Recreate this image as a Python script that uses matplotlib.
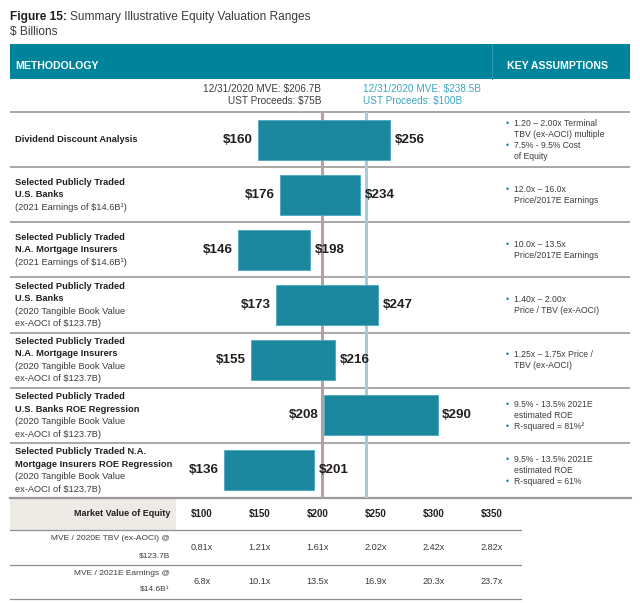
import matplotlib
matplotlib.use("Agg")
import matplotlib.pyplot as plt
from matplotlib.patches import Rectangle

plt.rcParams['font.family'] = ['Liberation Sans', 'DejaVu Sans']

# data
method_bold = [
    ["Dividend Discount Analysis"],
    ["Selected Publicly Traded", "U.S. Banks"],
    ["Selected Publicly Traded", "N.A. Mortgage Insurers"],
    ["Selected Publicly Traded", "U.S. Banks"],
    ["Selected Publicly Traded", "N.A. Mortgage Insurers"],
    ["Selected Publicly Traded", "U.S. Banks ROE Regression"],
    ["Selected Publicly Traded N.A.", "Mortgage Insurers ROE Regression"],
]
method_note = [
    [],
    ["(2021 Earnings of $14.6B\u00b9)"],
    ["(2021 Earnings of $14.6B\u00b9)"],
    ["(2020 Tangible Book Value", "ex-AOCI of $123.7B)"],
    ["(2020 Tangible Book Value", "ex-AOCI of $123.7B)"],
    ["(2020 Tangible Book Value", "ex-AOCI of $123.7B)"],
    ["(2020 Tangible Book Value", "ex-AOCI of $123.7B)"],
]
low_vals = [160, 176, 146, 173, 155, 208, 136]
high_vals = [256, 234, 198, 247, 216, 290, 201]
key_assumptions = [
    ["\u2022 1.20 \u2013 2.00x Terminal", "TBV (ex-AOCI) multiple", "\u2022 7.5% - 9.5% Cost", "of Equity"],
    ["\u2022 12.0x \u2013 16.0x", "Price/2017E Earnings"],
    ["\u2022 10.0x \u2013 13.5x", "Price/2017E Earnings"],
    ["\u2022 1.40x \u2013 2.00x", "Price / TBV (ex-AOCI)"],
    ["\u2022 1.25x \u2013 1.75x Price /", "TBV (ex-AOCI)"],
    ["\u2022 9.5% - 13.5% 2021E", "estimated ROE", "\u2022 R-squared = 81%\u00b2"],
    ["\u2022 9.5% - 13.5% 2021E", "estimated ROE", "\u2022 R-squared = 61%"],
]
mve_current = 206.7
mve_proforma = 238.5
ref_labels = [["12/31/2020 MVE: $206.7B", "UST Proceeds: $75B"],
              ["12/31/2020 MVE: $238.5B", "UST Proceeds: $100B"]]

mve_cols = ["$100", "$150", "$200", "$250", "$300", "$350"]
tbv_mult = ["0.81x", "1.21x", "1.61x", "2.02x", "2.42x", "2.82x"]
earn_mult = ["6.8x", "10.1x", "13.5x", "16.9x", "20.3x", "23.7x"]
table_rows = [["MVE / 2020E TBV (ex-AOCI) @", "$123.7B"],
              ["MVE / 2021E Earnings @", "$14.6B\u00b9"]]

# colours
teal = "#00849b"
bar_col = "#1a879f"
dark = "#231f20"
grey_txt = "#3c3c3c"
line_grey = "#8f8f8f"
brown = "#b3a39c"
light_blue = "#a8cbdc"
blue_txt = "#3aa6c1"

W, H = 640, 603
fig = plt.figure(figsize=(W / 100, H / 100), dpi=100)
lay = fig.add_axes([0, 0, 1, 1])
lay.set_xlim(0, W)
lay.set_ylim(H, 0)
lay.axis("off")

# title
r = fig.canvas.get_renderer()
t = lay.text(10, 17, "Figure 15:", fontsize=8.6, fontweight="bold", color=dark, va="center")
bb = t.get_window_extent(r)
lay.text(bb.x1 + 3, 17, "Summary Illustrative Equity Valuation Ranges", fontsize=8.6,
         color=grey_txt, va="center")
lay.text(10, 32, "$ Billions", fontsize=8.6, color=grey_txt, va="center")

# header band
lay.add_patch(Rectangle((10, 44), 620, 35, facecolor=teal, edgecolor="none"))
lay.plot([492, 492], [44, 79], color="#2f9aae", lw=0.8)
lay.text(15, 66, "METHODOLOGY", fontsize=7.6, fontweight="bold", color="white", va="center")
lay.text(507, 66, "KEY ASSUMPTIONS", fontsize=7.6, fontweight="bold", color="white", va="center")

# row grid
top, row_h = 112, 55.14
n = len(low_vals)
for i in range(n + 1):
    y = top + i * row_h
    lay.plot([10, 630], [y, y], color=line_grey, lw=1.1, solid_capstyle="butt")

# left text + key assumptions
for i in range(n):
    cy = top + (i + 0.5) * row_h
    lines = [(s, "bold") for s in method_bold[i]] + [(s, "normal") for s in method_note[i]]
    y0 = cy - (len(lines) - 1) * 12.5 / 2
    for k, (s, w) in enumerate(lines):
        lay.text(15, y0 + k * 12.5, s, fontsize=6.7, fontweight=w,
                 color=dark if w == "bold" else grey_txt, va="center")
    ka = key_assumptions[i]
    y0 = cy - (len(ka) - 1) * 11 / 2
    for k, s in enumerate(ka):
        yy = y0 + k * 11
        if s.startswith("\u2022"):
            lay.text(506, yy, "\u2022", fontsize=6.2, color=teal, va="center")
            s = s[2:]
        lay.text(514, yy, s, fontsize=6.2, color=grey_txt, va="center")

# reference labels above the chart
lay.text(321, 89, ref_labels[0][0], fontsize=7.2, color=grey_txt, ha="right", va="center")
lay.text(321, 101, ref_labels[0][1], fontsize=7.2, color=grey_txt, ha="right", va="center")
lay.text(363, 89, ref_labels[1][0], fontsize=7.2, color=blue_txt, ha="left", va="center")
lay.text(363, 101, ref_labels[1][1], fontsize=7.2, color=blue_txt, ha="left", va="center")

# bar axes
px_per, x0 = 1.385, 35.9
ax = fig.add_axes([0, 1 - (top + n * row_h) / H, 1, n * row_h / H])
ax.set_xlim(-x0 / px_per, (W - x0) / px_per)
ax.set_ylim(n - 0.5, -0.5)
ax.axis("off")
ax.patch.set_alpha(0)

rows = list(range(n))
widths = [h - l for l, h in zip(low_vals, high_vals)]
ax.axvline(mve_current, color=brown, lw=2.2, zorder=1)
ax.axvline(mve_proforma, color=light_blue, lw=2.2, zorder=1)
ax.barh(rows, widths, left=low_vals, height=0.725, color=bar_col,
        edgecolor="#4aa9bd", linewidth=0.6, zorder=2)
for i in rows:
    ax.annotate(f"${low_vals[i]}", (low_vals[i], i), xytext=(-3.6, 0), textcoords="offset points",
                ha="right", va="center", fontsize=9.6, fontweight="bold", color=dark, zorder=3)
    ax.annotate(f"${high_vals[i]}", (high_vals[i], i), xytext=(3.4, 0), textcoords="offset points",
                ha="left", va="center", fontsize=9.6, fontweight="bold", color=dark, zorder=3)

# bottom table
tb = 498
lay.add_patch(Rectangle((10, tb), 166, 32, facecolor="#eeeae6", edgecolor="none"))
lay.plot([10, 631], [tb, tb], color="#9a9a9a", lw=1.6)
for y in (530, 564.5, 599):
    lay.plot([10, 521], [y, y], color=line_grey, lw=0.9)
col_x = [202 + 58 * j for j in range(len(mve_cols))]
lay.text(170, 514, "Market Value of Equity", fontsize=6.5, fontweight="bold", color=dark,
         ha="right", va="center")
for j, c in enumerate(mve_cols):
    lay.text(col_x[j], 514, c, fontsize=7.0, fontweight="bold", color=dark, ha="center", va="center")
for r_i, (lab, vals) in enumerate(zip(table_rows, [tbv_mult, earn_mult])):
    cy = 547.5 + r_i * 34.5
    lay.text(170, cy - 8.5, lab[0], fontsize=6.0, color=grey_txt, ha="right", va="center")
    lay.text(170, cy + 8.5, lab[1], fontsize=6.0, color=grey_txt, ha="right", va="center")
    for j, v in enumerate(vals):
        lay.text(col_x[j], cy, v, fontsize=6.6, color=grey_txt, ha="center", va="center")

fig.savefig("out.png", dpi=100)
